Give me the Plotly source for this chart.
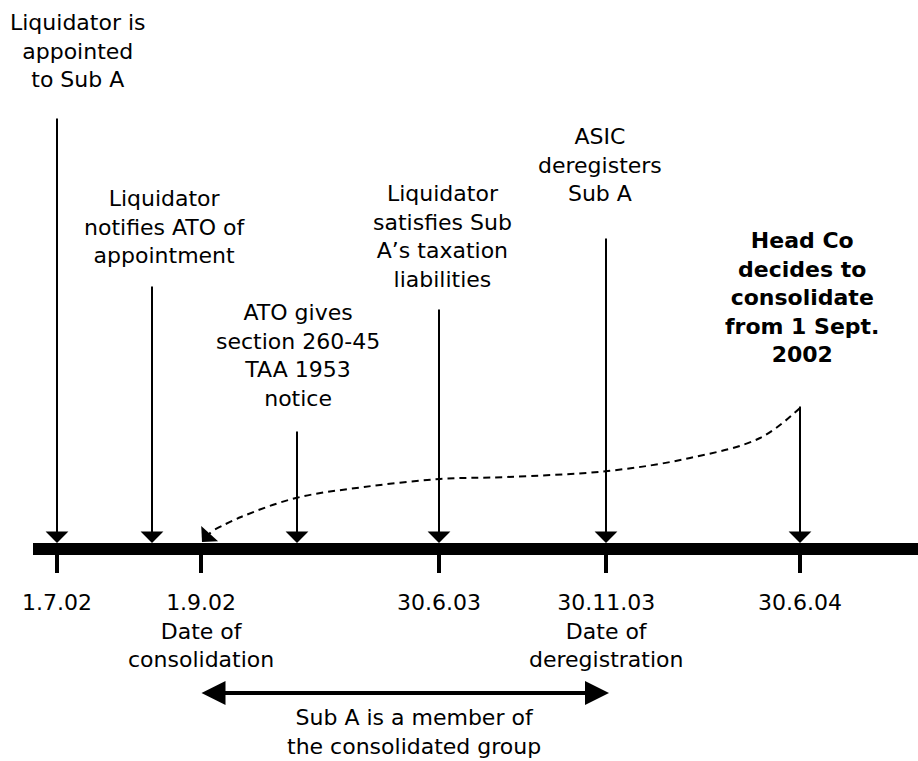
import plotly.graph_objects as go

# ---- data ----
dates = ["1.7.02", "1.9.02", "30.6.03", "30.11.03", "30.6.04"]
date_pos = [57, 201, 439, 606, 800]
date_notes = ["", "Date of<br>consolidation", "", "Date of<br>deregistration", ""]

event_labels = [
    "Liquidator is<br>appointed<br>to Sub A",
    "Liquidator<br>notifies ATO of<br>appointment",
    "ATO gives<br>section 260-45<br>TAA 1953<br>notice",
    "Liquidator<br>satisfies Sub<br>A\u2019s taxation<br>liabilities",
    "ASIC<br>deregisters<br>Sub A",
    "<b>Head Co<br>decides to<br>consolidate<br>from 1 Sept.<br>2002</b>",
]
event_pos = [57, 152, 297, 439, 606, 800]
event_start = [117, 285, 430, 308, 237, 405]
event_label_x = [78, 165, 298, 442, 600, 802]
event_label_y = [51, 227, 355, 236, 165, 297]

curve_x = [800, 760, 690, 608, 506, 440, 364, 296, 241, 212]
curve_y = [408, 438, 458, 471, 477, 479, 487, 498, 517, 531]

span_text = "Sub A is a member of<br>the consolidated group"

FONT = "DejaVu Sans"
FS = 22
BAR_Y = 549
BAR_TOP = 543

fig = go.Figure()

# timeline bar
fig.add_trace(go.Scatter(x=[33, 918], y=[BAR_Y, BAR_Y], mode="lines",
                         line=dict(color="black", width=12), hoverinfo="skip"))
# ticks below bar
for xp in date_pos:
    fig.add_trace(go.Scatter(x=[xp, xp], y=[BAR_Y, 573], mode="lines",
                             line=dict(color="black", width=4), hoverinfo="skip"))

# dashed curve
fig.add_trace(go.Scatter(x=curve_x, y=curve_y, mode="lines",
                         line=dict(color="black", width=2, dash="7px,5px", shape="spline", smoothing=1.0),
                         hoverinfo="skip"))

annotations = []
# vertical event arrows
for xp, ys in zip(event_pos, event_start):
    annotations.append(dict(x=xp, y=BAR_TOP, ax=xp, ay=ys, xref="x", yref="y",
                            axref="x", ayref="y", showarrow=True, arrowhead=1,
                            arrowsize=1.9, arrowwidth=2, arrowcolor="black",
                            standoff=0, text=""))
# curve arrowhead
annotations.append(dict(x=202, y=542, ax=curve_x[-1], ay=curve_y[-1], xref="x", yref="y",
                        axref="x", ayref="y", showarrow=True, arrowhead=1,
                        arrowsize=1.9, arrowwidth=2, arrowcolor="black", standoff=0, text=""))
# event labels
for txt, lx, ly in zip(event_labels, event_label_x, event_label_y):
    annotations.append(dict(x=lx, y=ly, xref="x", yref="y", text=txt, showarrow=False,
                            xanchor="center", yanchor="middle", align="center",
                            font=dict(family=FONT, size=FS, color="black")))
# date labels
for d, n, xp in zip(dates, date_notes, date_pos):
    txt = d if not n else d + "<br>" + n
    annotations.append(dict(x=xp, y=588, xref="x", yref="y", text=txt, showarrow=False,
                            xanchor="center", yanchor="top", align="center",
                            font=dict(family=FONT, size=FS, color="black")))
# membership span double arrow
annotations.append(dict(x=date_pos[3] + 3, y=693, ax=date_pos[1] - 1, ay=693, xref="x", yref="y",
                        axref="x", ayref="y", showarrow=True, arrowhead=2, startarrowhead=2,
                        arrowside="end+start", arrowsize=1.2, startarrowsize=1.2,
                        arrowwidth=4, arrowcolor="black", standoff=0, startstandoff=0, text=""))
annotations.append(dict(x=(date_pos[1] + date_pos[3]) / 2 + 10, y=732, xref="x", yref="y",
                        text=span_text, showarrow=False, xanchor="center", yanchor="middle",
                        align="center", font=dict(family=FONT, size=FS, color="black")))

fig.update_layout(
    width=918, height=761,
    margin=dict(l=0, r=0, t=0, b=0),
    paper_bgcolor="white", plot_bgcolor="white",
    showlegend=False,
    xaxis=dict(range=[0, 918], visible=False, fixedrange=True),
    yaxis=dict(range=[761, 0], visible=False, fixedrange=True),
    annotations=annotations,
)

fig.write_html("out.html", config={"displayModeBar": False},
               post_script="document.body.style.margin='0';document.body.style.overflow='hidden';")
